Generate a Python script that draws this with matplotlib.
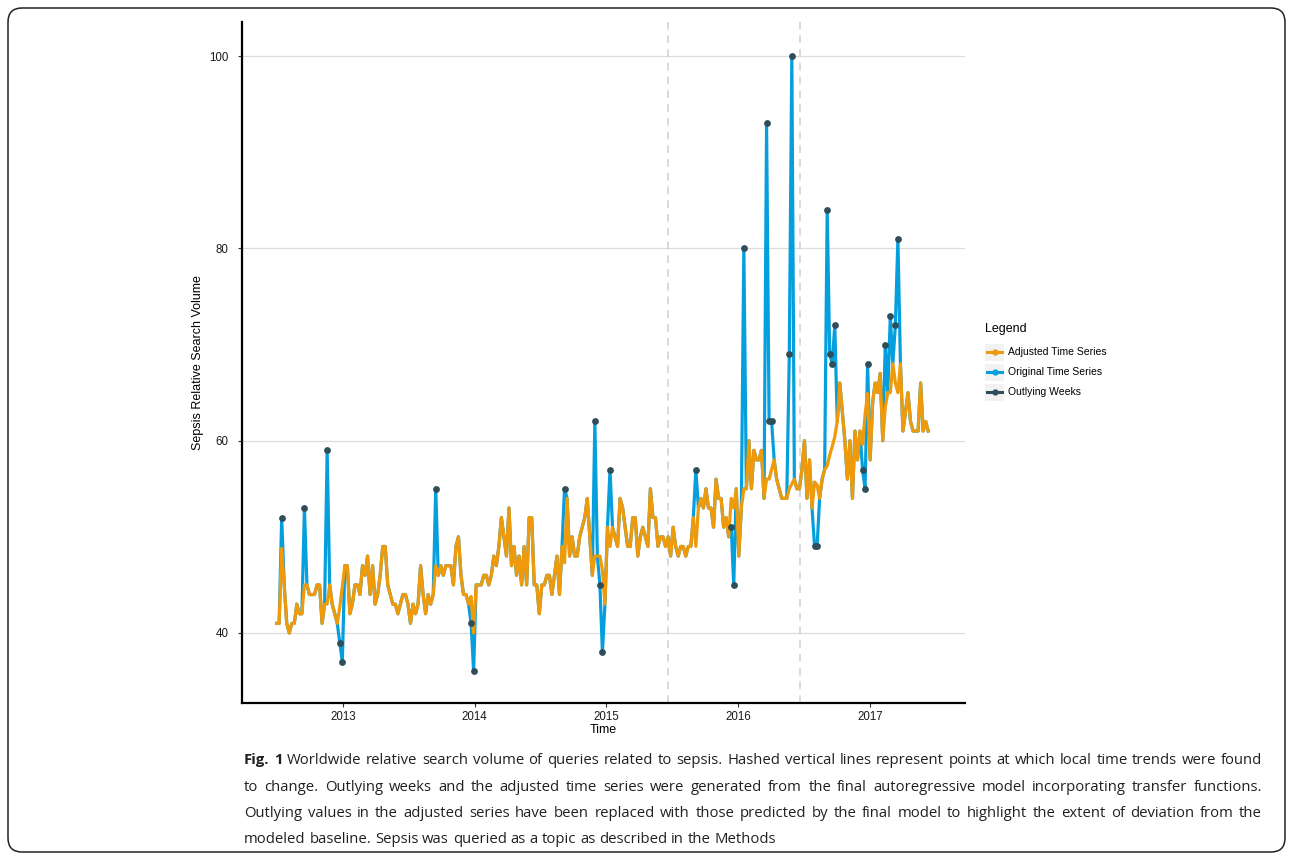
import numpy as np
import pandas as pd
import matplotlib
matplotlib.use('Agg')
import matplotlib.pyplot as plt
from matplotlib.patches import FancyBboxPatch, Rectangle
from matplotlib.lines import Line2D
from matplotlib.transforms import IdentityTransform

# ------------------------------------------
# Data: weekly relative search volume for "sepsis" (Jul 2012 - Jun 2017)
# ------------------------------------------
start_week = '2012-07-01'

original = [
    41, 41, 52, 45, 41, 40, 41, 41, 43, 42,
    42, 53, 45, 44, 44, 44, 45, 45, 41, 43,
    59, 45, 43, 42, 41, 39, 37, 47, 47, 42,
    43, 45, 45, 44, 47, 46, 48, 44, 47, 43,
    44, 46, 49, 49, 45, 44, 43, 43, 42, 43,
    44, 44, 43, 41, 43, 42, 43, 47, 44, 42,
    44, 43, 44, 55, 46, 47, 46, 47, 47, 47,
    45, 49, 50, 46, 44, 44, 43, 41, 36, 45,
    45, 45, 46, 46, 45, 46, 48, 47, 49, 52,
    50, 48, 53, 47, 49, 46, 48, 45, 49, 45,
    52, 52, 45, 45, 42, 45, 45, 46, 46, 44,
    46, 48, 44, 49, 55, 54, 48, 50, 48, 48,
    50, 51, 52, 54, 50, 46, 62, 48, 45, 38,
    43, 51, 57, 51, 50, 49, 54, 53, 51, 49,
    49, 52, 52, 48, 50, 51, 50, 49, 55, 52,
    52, 49, 50, 50, 49, 50, 48, 51, 49, 48,
    49, 49, 48, 49, 49, 52, 57, 53, 54, 53,
    55, 53, 53, 51, 56, 54, 54, 51, 52, 50,
    51, 45, 55, 48, 53, 80, 55, 60, 55, 59,
    58, 58, 59, 54, 93, 62, 62, 58, 56, 55,
    54, 54, 54, 69, 100, 56, 55, 55, 57, 60,
    54, 58, 53, 49, 49, 54, 56, 57, 84, 69,
    68, 72, 62, 66, 63, 60, 56, 60, 54, 61,
    58, 61, 57, 55, 68, 58, 64, 66, 65, 67,
    60, 70, 65, 73, 68, 72, 81, 68, 61, 63,
    65, 62, 61, 61, 61, 66, 61, 62, 61,
]

# outlying weeks (index into the series) and the model's predicted value there
outlier_weeks = [2, 11, 20, 25, 26, 63, 77, 78, 114, 126, 128, 129, 132,
                 166, 180, 181, 185, 194, 195, 196, 203, 204, 213, 214,
                 218, 219, 220, 221, 232, 233, 234, 241, 243, 245, 246]
predicted = [48.8, 45, 43, 42.7, 44.8, 47, 43.8, 40, 47.3, 48, 48, 46.5, 49,
             49, 54, 53, 55, 56, 56, 57, 55, 55.5, 55.7, 55.4,
             57.4, 58.5, 59.4, 60.4, 59.6, 62.7, 64.9, 63.5, 65, 66, 65]

change_points = ['2015-06-21', '2016-06-21']
year_ticks = ['2013', '2014', '2015', '2016', '2017']
y_ticks = [40, 60, 80, 100]

caption_lines = [
    'Worldwide relative search volume of queries related to sepsis. Hashed vertical lines represent points at which local time trends were found',
    'to change. Outlying weeks and the adjusted time series were generated from the final autoregressive model incorporating transfer functions.',
    'Outlying values in the adjusted series have been replaced with those predicted by the final model to highlight the extent of deviation from the',
    'modeled baseline. Sepsis was queried as a topic as described in the Methods',
]

# build the series
dates = pd.date_range(start_week, periods=len(original), freq='7D')
original = np.array(original, dtype=float)
adjusted = original.copy()
adjusted[outlier_weeks] = predicted

ORANGE = '#EE9A0A'
BLUE = '#069FDD'
DARK = '#2F4E5A'

plt.rcParams['font.family'] = ['Liberation Sans', 'DejaVu Sans']

W, H = 1292, 858
fig = plt.figure(figsize=(W / 100, H / 100), dpi=100)
ax = fig.add_axes([242 / W, 155 / H, 723 / W, 681 / H])

# ------------------------------------------
# Series
# ------------------------------------------
ax.plot(dates, original, color=BLUE, lw=2.3, zorder=2, solid_joinstyle='round')
ax.plot(dates, adjusted, color=ORANGE, lw=2.3, zorder=3, solid_joinstyle='round')
ax.scatter(dates[outlier_weeks], original[outlier_weeks], s=24, color=DARK,
           zorder=4, linewidths=0)

for cp in change_points:
    ax.axvline(pd.Timestamp(cp), color='#CFCFCF', lw=1.1, ls=(0, (5, 4)), zorder=1)

# ------------------------------------------
# Axes styling (ggplot classic look)
# ------------------------------------------
ax.set_xlim(pd.Timestamp('2012-03-27'), pd.Timestamp('2017-09-21'))
ax.set_ylim(32.72, 103.54)
ax.set_xticks([pd.Timestamp(y + '-01-01') for y in year_ticks])
ax.set_xticklabels(year_ticks)
ax.set_yticks(y_ticks)
ax.yaxis.grid(True, color='#DCDCDC', lw=0.9)
ax.set_axisbelow(True)

for side in ['top', 'right']:
    ax.spines[side].set_visible(False)
for side in ['left', 'bottom']:
    ax.spines[side].set_linewidth(1.6)
    ax.spines[side].set_color('black')

ax.tick_params(axis='both', length=3, width=0.8, color='#333333',
               labelsize=8.3, labelcolor='#1a1a1a')
ax.tick_params(axis='y', pad=6.5)
ax.tick_params(axis='x', pad=2.5)
ax.set_xlabel('Time', fontsize=9, labelpad=1)
ax.set_ylabel('Sepsis Relative Search Volume', fontsize=9, labelpad=4)

# ------------------------------------------
# Legend (drawn in pixel coordinates, ggplot-style keys)
# ------------------------------------------
px = IdentityTransform()
fig.text(985, H - 329, 'Legend', transform=px, fontsize=9, va='center', ha='left')
legend_items = [('Adjusted Time Series', ORANGE), ('Original Time Series', BLUE),
                ('Outlying Weeks', DARK)]
for k, (lab, col) in enumerate(legend_items):
    yc = H - (352 + 20 * k)
    fig.add_artist(Rectangle((985, yc - 8.5), 19, 17, transform=px,
                             facecolor='#F2F2F2', edgecolor='none'))
    fig.add_artist(Line2D([987, 1002], [yc, yc], transform=px, color=col, lw=2.2))
    fig.add_artist(Line2D([994.5], [yc], transform=px, color=col, marker='o',
                          markersize=3.5, lw=0))
    fig.text(1008, yc, lab, transform=px, fontsize=7.5, va='center', ha='left')

# ------------------------------------------
# Caption (justified, like the journal layout)
# ------------------------------------------
renderer = fig.canvas.get_renderer()
cap_font = dict(family=['Open Sans', 'DejaVu Sans'], color='#231F20')


def width_of(s, size, weight='normal'):
    t = fig.text(0, 0, s, transform=px, fontsize=size, weight=weight, **cap_font)
    w = t.get_window_extent(renderer).width
    t.remove()
    return w


x_left, x_right = 244, 1262
# pick the size so the widest line nearly fills the measure
widest = max(width_of('Fig. 1 ' + caption_lines[0], 10), width_of(caption_lines[1], 10),
             width_of(caption_lines[2], 10))
cap_size = 10 * 1000 / widest

baselines = [764, 791, 817, 843]
space = width_of('a a', cap_size) - width_of('aa', cap_size)
for n, line in enumerate(caption_lines):
    words = line.split(' ')
    styled = [(w, 'normal') for w in words]
    if n == 0:
        styled = [('Fig.', 'bold'), ('1', 'bold')] + styled
    widths = [width_of(w, cap_size, wt) for w, wt in styled]
    if n < len(caption_lines) - 1:
        gap = (x_right - x_left - sum(widths)) / (len(styled) - 1)
    else:
        gap = space
    x = x_left
    for (w, wt), wd in zip(styled, widths):
        fig.text(x, H - baselines[n], w, transform=px, fontsize=cap_size, weight=wt,
                 va='baseline', ha='left', **cap_font)
        x += wd + gap

# rounded frame around figure + caption
fig.add_artist(FancyBboxPatch((8, 6), 1277, 844, transform=px,
                              boxstyle='round,pad=0,rounding_size=14',
                              fill=False, edgecolor='#222222', lw=1.1))

fig.savefig('out.png', dpi=100)
